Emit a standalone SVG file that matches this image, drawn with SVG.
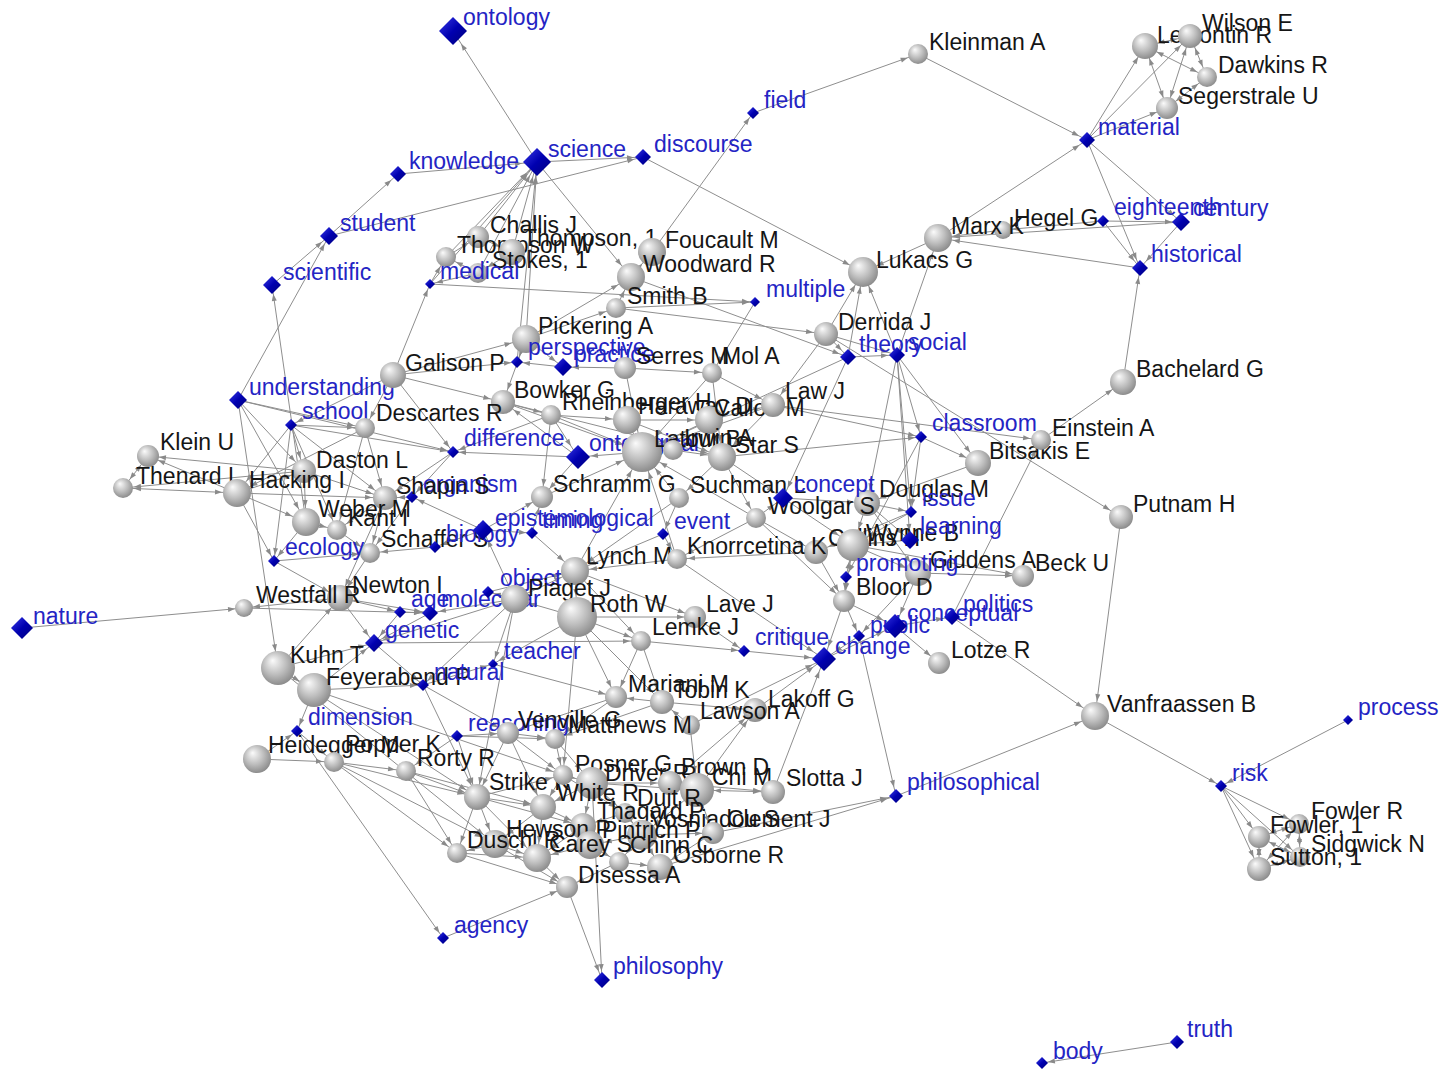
<svg xmlns="http://www.w3.org/2000/svg" width="1443" height="1071" viewBox="0 0 1443 1071">
<style>
.e line{stroke:#8e8e8e;stroke-width:1;fill:none}
text{font-family:"Liberation Sans",Arial,sans-serif;font-size:23px;fill:#151515}
text.c{fill:#2424c4}
circle{fill:url(#sph)}
.d{fill:url(#dia)}
</style>
<defs>
<radialGradient id="sph" cx="0.45" cy="0.42" r="0.62" fx="0.34" fy="0.28"><stop offset="0" stop-color="#fbfbfb"/><stop offset="0.55" stop-color="#bdbdbd"/><stop offset="1" stop-color="#868686"/></radialGradient>
<linearGradient id="dia" x1="0" y1="0" x2="1" y2="1"><stop offset="0" stop-color="#3a3ae8"/><stop offset="0.5" stop-color="#0000b0"/><stop offset="1" stop-color="#00007a"/></linearGradient>
<marker id="a6" markerUnits="userSpaceOnUse" markerWidth="8" markerHeight="6" refX="6" refY="0" orient="auto-start-reverse" style="overflow:visible"><path d="M0 0L-7-2.5-7 2.5z" fill="#8a8a8a"/></marker>
<marker id="a9" markerUnits="userSpaceOnUse" markerWidth="8" markerHeight="6" refX="9" refY="0" orient="auto-start-reverse" style="overflow:visible"><path d="M0 0L-7-2.5-7 2.5z" fill="#8a8a8a"/></marker>
<marker id="a11" markerUnits="userSpaceOnUse" markerWidth="8" markerHeight="6" refX="11" refY="0" orient="auto-start-reverse" style="overflow:visible"><path d="M0 0L-7-2.5-7 2.5z" fill="#8a8a8a"/></marker>
<marker id="a13" markerUnits="userSpaceOnUse" markerWidth="8" markerHeight="6" refX="13" refY="0" orient="auto-start-reverse" style="overflow:visible"><path d="M0 0L-7-2.5-7 2.5z" fill="#8a8a8a"/></marker>
<marker id="a15" markerUnits="userSpaceOnUse" markerWidth="8" markerHeight="6" refX="15" refY="0" orient="auto-start-reverse" style="overflow:visible"><path d="M0 0L-7-2.5-7 2.5z" fill="#8a8a8a"/></marker>
<marker id="a17" markerUnits="userSpaceOnUse" markerWidth="8" markerHeight="6" refX="17" refY="0" orient="auto-start-reverse" style="overflow:visible"><path d="M0 0L-7-2.5-7 2.5z" fill="#8a8a8a"/></marker>
<marker id="a21" markerUnits="userSpaceOnUse" markerWidth="8" markerHeight="6" refX="21" refY="0" orient="auto-start-reverse" style="overflow:visible"><path d="M0 0L-7-2.5-7 2.5z" fill="#8a8a8a"/></marker>
</defs>
<rect width="1443" height="1071" fill="#ffffff"/>
<g id="connectors" class="e">
<g marker-end="url(#a15)">
<line x1="537" y1="162" x2="453" y2="31"/>
<line x1="398" y1="174" x2="537" y2="162"/>
<line x1="478" y1="237" x2="537" y2="162"/>
<line x1="446" y1="257" x2="537" y2="162"/>
<line x1="512" y1="252" x2="537" y2="162"/>
<line x1="478" y1="273" x2="537" y2="162"/>
<line x1="430" y1="284" x2="537" y2="162"/>
<line x1="526" y1="339" x2="537" y2="162"/>
<line x1="517" y1="362" x2="537" y2="162"/>
<line x1="643" y1="157" x2="863" y2="272"/>
<line x1="938" y1="238" x2="863" y2="272"/>
<line x1="848" y1="357" x2="863" y2="272"/>
<line x1="897" y1="355" x2="863" y2="272"/>
<line x1="826" y1="334" x2="863" y2="272"/>
<line x1="537" y1="162" x2="631" y2="277"/>
<line x1="616" y1="308" x2="631" y2="277"/>
<line x1="526" y1="339" x2="631" y2="277"/>
<line x1="631" y1="277" x2="652" y2="252"/>
<line x1="897" y1="355" x2="938" y2="238"/>
<line x1="1003" y1="230" x2="938" y2="238"/>
<line x1="1140" y1="268" x2="938" y2="238"/>
<line x1="1181" y1="222" x2="938" y2="238"/>
<line x1="238" y1="400" x2="306" y2="522"/>
<line x1="237" y1="493" x2="306" y2="522"/>
<line x1="304" y1="471" x2="306" y2="522"/>
<line x1="291" y1="425" x2="237" y2="493"/>
<line x1="365" y1="428" x2="237" y2="493"/>
<line x1="393" y1="375" x2="526" y2="339"/>
<line x1="551" y1="415" x2="627" y2="420"/>
<line x1="627" y1="420" x2="709" y2="420"/>
<line x1="503" y1="402" x2="722" y2="457"/>
<line x1="627" y1="420" x2="722" y2="457"/>
<line x1="709" y1="420" x2="722" y2="457"/>
<line x1="773" y1="405" x2="722" y2="457"/>
<line x1="712" y1="373" x2="722" y2="457"/>
<line x1="673" y1="450" x2="722" y2="457"/>
<line x1="488" y1="592" x2="575" y2="571"/>
<line x1="515" y1="599" x2="575" y2="571"/>
<line x1="677" y1="559" x2="575" y2="571"/>
<line x1="663" y1="534" x2="575" y2="571"/>
<line x1="532" y1="533" x2="575" y2="571"/>
<line x1="679" y1="498" x2="575" y2="571"/>
<line x1="577" y1="617" x2="515" y2="599"/>
<line x1="334" y1="762" x2="495" y2="844"/>
<line x1="278" y1="668" x2="495" y2="844"/>
<line x1="477" y1="797" x2="495" y2="844"/>
<line x1="543" y1="807" x2="495" y2="844"/>
<line x1="583" y1="826" x2="590" y2="845"/>
<line x1="642" y1="835" x2="590" y2="845"/>
<line x1="477" y1="797" x2="537" y2="858"/>
<line x1="583" y1="826" x2="537" y2="858"/>
<line x1="495" y1="844" x2="537" y2="858"/>
<line x1="590" y1="845" x2="537" y2="858"/>
<line x1="457" y1="853" x2="537" y2="858"/>
<line x1="543" y1="807" x2="537" y2="858"/>
<line x1="697" y1="790" x2="642" y2="835"/>
<line x1="625" y1="813" x2="642" y2="835"/>
<line x1="1121" y1="517" x2="1095" y2="716"/>
<line x1="952" y1="617" x2="1095" y2="716"/>
<line x1="896" y1="796" x2="1095" y2="716"/>
</g>
<g marker-end="url(#a21)">
<line x1="575" y1="571" x2="577" y2="617"/>
<line x1="551" y1="415" x2="642" y2="452"/>
<line x1="503" y1="402" x2="642" y2="452"/>
<line x1="627" y1="420" x2="642" y2="452"/>
<line x1="709" y1="420" x2="642" y2="452"/>
<line x1="773" y1="405" x2="642" y2="452"/>
<line x1="625" y1="368" x2="642" y2="452"/>
<line x1="712" y1="373" x2="642" y2="452"/>
<line x1="542" y1="497" x2="642" y2="452"/>
<line x1="679" y1="498" x2="642" y2="452"/>
<line x1="756" y1="518" x2="642" y2="452"/>
<line x1="677" y1="559" x2="642" y2="452"/>
<line x1="575" y1="571" x2="642" y2="452"/>
<line x1="848" y1="357" x2="642" y2="452"/>
</g>
<g marker-end="url(#a17)">
<line x1="238" y1="400" x2="278" y2="668"/>
<line x1="278" y1="668" x2="314" y2="690"/>
<line x1="555" y1="739" x2="592" y2="783"/>
<line x1="563" y1="775" x2="592" y2="783"/>
<line x1="592" y1="783" x2="697" y2="790"/>
<line x1="670" y1="783" x2="697" y2="790"/>
<line x1="690" y1="725" x2="697" y2="790"/>
<line x1="783" y1="498" x2="853" y2="545"/>
<line x1="867" y1="503" x2="853" y2="545"/>
<line x1="911" y1="512" x2="853" y2="545"/>
<line x1="910" y1="540" x2="853" y2="545"/>
<line x1="846" y1="577" x2="853" y2="545"/>
</g>
<g marker-end="url(#a13)">
<line x1="478" y1="237" x2="512" y2="252"/>
<line x1="616" y1="308" x2="826" y2="334"/>
<line x1="1087" y1="140" x2="1145" y2="46"/>
<line x1="1087" y1="140" x2="1190" y2="36"/>
<line x1="1145" y1="46" x2="1190" y2="36" marker-start="url(#a13)"/>
<line x1="1041" y1="440" x2="1123" y2="382"/>
<line x1="826" y1="334" x2="1121" y2="517"/>
<line x1="921" y1="437" x2="978" y2="463"/>
<line x1="897" y1="355" x2="978" y2="463"/>
<line x1="978" y1="463" x2="867" y2="503"/>
<line x1="238" y1="400" x2="304" y2="471"/>
<line x1="291" y1="425" x2="304" y2="471"/>
<line x1="237" y1="493" x2="304" y2="471"/>
<line x1="291" y1="425" x2="385" y2="498"/>
<line x1="365" y1="428" x2="385" y2="498"/>
<line x1="237" y1="493" x2="385" y2="498"/>
<line x1="304" y1="471" x2="385" y2="498"/>
<line x1="453" y1="452" x2="385" y2="498"/>
<line x1="412" y1="497" x2="385" y2="498"/>
<line x1="385" y1="498" x2="340" y2="598"/>
<line x1="370" y1="553" x2="340" y2="598"/>
<line x1="274" y1="561" x2="340" y2="598"/>
<line x1="278" y1="668" x2="340" y2="598"/>
<line x1="393" y1="375" x2="503" y2="402"/>
<line x1="578" y1="457" x2="503" y2="402"/>
<line x1="526" y1="339" x2="503" y2="402"/>
<line x1="551" y1="415" x2="578" y2="457"/>
<line x1="642" y1="452" x2="578" y2="457"/>
<line x1="709" y1="420" x2="773" y2="405"/>
<line x1="712" y1="373" x2="773" y2="405"/>
<line x1="826" y1="334" x2="773" y2="405"/>
<line x1="783" y1="498" x2="867" y2="503"/>
<line x1="897" y1="355" x2="867" y2="503"/>
<line x1="756" y1="518" x2="816" y2="552"/>
<line x1="911" y1="512" x2="816" y2="552"/>
<line x1="853" y1="545" x2="918" y2="573"/>
<line x1="867" y1="503" x2="918" y2="573"/>
<line x1="577" y1="617" x2="662" y2="702"/>
<line x1="641" y1="641" x2="662" y2="702"/>
<line x1="690" y1="725" x2="662" y2="702"/>
<line x1="662" y1="702" x2="755" y2="710"/>
<line x1="670" y1="783" x2="755" y2="710"/>
<line x1="697" y1="790" x2="755" y2="710"/>
<line x1="755" y1="710" x2="824" y2="659"/>
<line x1="690" y1="725" x2="824" y2="659"/>
<line x1="744" y1="651" x2="824" y2="659"/>
<line x1="677" y1="559" x2="824" y2="659"/>
<line x1="844" y1="601" x2="824" y2="659"/>
<line x1="859" y1="636" x2="824" y2="659"/>
<line x1="773" y1="792" x2="824" y2="659"/>
<line x1="844" y1="601" x2="895" y2="626"/>
<line x1="918" y1="573" x2="895" y2="626"/>
<line x1="824" y1="659" x2="895" y2="626"/>
<line x1="334" y1="762" x2="477" y2="797"/>
<line x1="406" y1="771" x2="477" y2="797"/>
<line x1="457" y1="736" x2="477" y2="797"/>
<line x1="278" y1="668" x2="477" y2="797"/>
<line x1="423" y1="685" x2="477" y2="797"/>
<line x1="508" y1="733" x2="477" y2="797"/>
<line x1="515" y1="599" x2="477" y2="797"/>
<line x1="406" y1="771" x2="543" y2="807"/>
<line x1="508" y1="733" x2="543" y2="807"/>
<line x1="477" y1="797" x2="543" y2="807"/>
<line x1="563" y1="775" x2="543" y2="807"/>
<line x1="592" y1="783" x2="543" y2="807"/>
<line x1="592" y1="783" x2="670" y2="783"/>
<line x1="697" y1="790" x2="773" y2="792" marker-start="url(#a17)"/>
<line x1="670" y1="783" x2="773" y2="792"/>
<line x1="592" y1="783" x2="583" y2="826"/>
<line x1="543" y1="807" x2="583" y2="826"/>
<line x1="625" y1="813" x2="583" y2="826"/>
<line x1="477" y1="797" x2="583" y2="826"/>
<line x1="642" y1="835" x2="660" y2="867"/>
<line x1="713" y1="833" x2="660" y2="867"/>
<line x1="619" y1="862" x2="660" y2="867"/>
<line x1="1221" y1="786" x2="1259" y2="869"/>
<line x1="1259" y1="837" x2="1259" y2="869" marker-start="url(#a11)"/>
<line x1="1300" y1="857" x2="1259" y2="869" marker-start="url(#a11)"/>
<line x1="1299" y1="824" x2="1259" y2="869" marker-start="url(#a11)"/>
</g>
<g marker-end="url(#a11)">
<line x1="753" y1="113" x2="918" y2="54"/>
<line x1="1087" y1="140" x2="1167" y2="108"/>
<line x1="1145" y1="46" x2="1207" y2="77" marker-start="url(#a13)"/>
<line x1="1145" y1="46" x2="1167" y2="108" marker-start="url(#a13)"/>
<line x1="1190" y1="36" x2="1207" y2="77" marker-start="url(#a13)"/>
<line x1="1190" y1="36" x2="1167" y2="108" marker-start="url(#a13)"/>
<line x1="1207" y1="77" x2="1167" y2="108" marker-start="url(#a11)"/>
<line x1="446" y1="257" x2="478" y2="237"/>
<line x1="478" y1="273" x2="446" y2="257"/>
<line x1="512" y1="252" x2="478" y2="273"/>
<line x1="430" y1="284" x2="446" y2="257"/>
<line x1="755" y1="302" x2="712" y2="373"/>
<line x1="625" y1="368" x2="712" y2="373"/>
<line x1="526" y1="339" x2="616" y2="308"/>
<line x1="773" y1="405" x2="1041" y2="440"/>
<line x1="952" y1="617" x2="1041" y2="440"/>
<line x1="918" y1="573" x2="1023" y2="576"/>
<line x1="853" y1="545" x2="1023" y2="576"/>
<line x1="895" y1="626" x2="939" y2="663"/>
<line x1="1221" y1="786" x2="1299" y2="824"/>
<line x1="1221" y1="786" x2="1259" y2="837"/>
<line x1="1221" y1="786" x2="1300" y2="857"/>
<line x1="1259" y1="837" x2="1299" y2="824" marker-start="url(#a11)"/>
<line x1="1259" y1="837" x2="1300" y2="857" marker-start="url(#a11)"/>
<line x1="1299" y1="824" x2="1300" y2="857" marker-start="url(#a11)"/>
<line x1="148" y1="456" x2="123" y2="488" marker-start="url(#a11)"/>
<line x1="237" y1="493" x2="148" y2="456"/>
<line x1="304" y1="471" x2="148" y2="456"/>
<line x1="237" y1="493" x2="123" y2="488" marker-start="url(#a15)"/>
<line x1="304" y1="471" x2="123" y2="488"/>
<line x1="238" y1="400" x2="365" y2="428"/>
<line x1="291" y1="425" x2="365" y2="428"/>
<line x1="393" y1="375" x2="365" y2="428"/>
<line x1="291" y1="425" x2="337" y2="530"/>
<line x1="365" y1="428" x2="337" y2="530"/>
<line x1="306" y1="522" x2="337" y2="530"/>
<line x1="385" y1="498" x2="337" y2="530"/>
<line x1="385" y1="498" x2="370" y2="553"/>
<line x1="337" y1="530" x2="370" y2="553"/>
<line x1="274" y1="561" x2="370" y2="553"/>
<line x1="412" y1="497" x2="370" y2="553"/>
<line x1="435" y1="547" x2="370" y2="553"/>
<line x1="257" y1="759" x2="334" y2="762"/>
<line x1="297" y1="731" x2="334" y2="762"/>
<line x1="334" y1="762" x2="406" y2="771"/>
<line x1="457" y1="736" x2="406" y2="771"/>
<line x1="334" y1="762" x2="457" y2="853"/>
<line x1="406" y1="771" x2="457" y2="853"/>
<line x1="477" y1="797" x2="457" y2="853"/>
<line x1="495" y1="844" x2="457" y2="853"/>
<line x1="457" y1="736" x2="508" y2="733"/>
<line x1="423" y1="685" x2="508" y2="733"/>
<line x1="616" y1="697" x2="508" y2="733"/>
<line x1="314" y1="690" x2="563" y2="775"/>
<line x1="508" y1="733" x2="563" y2="775"/>
<line x1="555" y1="739" x2="563" y2="775"/>
<line x1="477" y1="797" x2="563" y2="775"/>
<line x1="577" y1="617" x2="563" y2="775"/>
<line x1="374" y1="643" x2="641" y2="641"/>
<line x1="575" y1="571" x2="641" y2="641"/>
<line x1="577" y1="617" x2="641" y2="641"/>
<line x1="575" y1="571" x2="695" y2="617"/>
<line x1="577" y1="617" x2="695" y2="617"/>
<line x1="493" y1="664" x2="616" y2="697"/>
<line x1="577" y1="617" x2="616" y2="697"/>
<line x1="641" y1="641" x2="616" y2="697"/>
<line x1="662" y1="702" x2="616" y2="697"/>
<line x1="662" y1="702" x2="555" y2="739"/>
<line x1="616" y1="697" x2="555" y2="739"/>
<line x1="457" y1="736" x2="555" y2="739"/>
<line x1="508" y1="733" x2="555" y2="739"/>
<line x1="515" y1="599" x2="483" y2="530"/>
<line x1="663" y1="534" x2="677" y2="559"/>
<line x1="756" y1="518" x2="677" y2="559"/>
<line x1="816" y1="552" x2="677" y2="559"/>
<line x1="532" y1="533" x2="542" y2="497"/>
<line x1="483" y1="530" x2="542" y2="497"/>
<line x1="578" y1="457" x2="542" y2="497"/>
<line x1="551" y1="415" x2="542" y2="497"/>
<line x1="503" y1="402" x2="551" y2="415"/>
<line x1="642" y1="452" x2="673" y2="450"/>
<line x1="722" y1="457" x2="679" y2="498"/>
<line x1="722" y1="457" x2="756" y2="518"/>
<line x1="722" y1="457" x2="783" y2="498"/>
<line x1="756" y1="518" x2="783" y2="498"/>
<line x1="848" y1="357" x2="783" y2="498"/>
<line x1="756" y1="518" x2="844" y2="601"/>
<line x1="853" y1="545" x2="844" y2="601"/>
<line x1="816" y1="552" x2="844" y2="601"/>
<line x1="846" y1="577" x2="844" y2="601"/>
<line x1="563" y1="775" x2="625" y2="813"/>
<line x1="592" y1="783" x2="625" y2="813"/>
<line x1="697" y1="790" x2="713" y2="833"/>
<line x1="642" y1="835" x2="713" y2="833"/>
<line x1="642" y1="835" x2="619" y2="862"/>
<line x1="590" y1="845" x2="619" y2="862"/>
<line x1="495" y1="844" x2="567" y2="887"/>
<line x1="537" y1="858" x2="567" y2="887"/>
<line x1="619" y1="862" x2="567" y2="887"/>
<line x1="457" y1="853" x2="567" y2="887"/>
<line x1="443" y1="938" x2="567" y2="887"/>
</g>
<g marker-end="url(#a9)">
<line x1="1103" y1="221" x2="1003" y2="230"/>
<line x1="329" y1="236" x2="398" y2="174"/>
<line x1="272" y1="285" x2="329" y2="236"/>
<line x1="238" y1="400" x2="329" y2="236"/>
<line x1="329" y1="236" x2="643" y2="157"/>
<line x1="537" y1="162" x2="643" y2="157"/>
<line x1="918" y1="54" x2="1087" y2="140"/>
<line x1="938" y1="238" x2="1087" y2="140"/>
<line x1="631" y1="277" x2="848" y2="357"/>
<line x1="826" y1="334" x2="848" y2="357"/>
<line x1="1103" y1="221" x2="1181" y2="222"/>
<line x1="1087" y1="140" x2="1181" y2="222"/>
<line x1="1103" y1="221" x2="1140" y2="268"/>
<line x1="1181" y1="222" x2="1140" y2="268"/>
<line x1="1087" y1="140" x2="1140" y2="268"/>
<line x1="1123" y1="382" x2="1140" y2="268"/>
<line x1="22" y1="628" x2="244" y2="608"/>
<line x1="340" y1="598" x2="244" y2="608"/>
<line x1="306" y1="522" x2="272" y2="285"/>
<line x1="340" y1="598" x2="430" y2="613"/>
<line x1="400" y1="612" x2="430" y2="613"/>
<line x1="244" y1="608" x2="430" y2="613"/>
<line x1="515" y1="599" x2="430" y2="613"/>
<line x1="340" y1="598" x2="374" y2="643"/>
<line x1="400" y1="612" x2="374" y2="643"/>
<line x1="430" y1="613" x2="374" y2="643"/>
<line x1="278" y1="668" x2="374" y2="643"/>
<line x1="314" y1="690" x2="374" y2="643"/>
<line x1="515" y1="599" x2="374" y2="643"/>
<line x1="625" y1="368" x2="563" y2="367"/>
<line x1="526" y1="339" x2="563" y2="367"/>
<line x1="867" y1="503" x2="910" y2="540"/>
<line x1="897" y1="355" x2="910" y2="540"/>
<line x1="826" y1="334" x2="897" y2="355"/>
<line x1="848" y1="357" x2="897" y2="355"/>
<line x1="895" y1="626" x2="952" y2="617"/>
<line x1="859" y1="636" x2="896" y2="796"/>
<line x1="713" y1="833" x2="896" y2="796"/>
<line x1="660" y1="867" x2="896" y2="796"/>
<line x1="567" y1="887" x2="602" y2="980"/>
<line x1="592" y1="783" x2="602" y2="980"/>
</g>
<g marker-end="url(#a6)">
<line x1="652" y1="252" x2="753" y2="113"/>
<line x1="478" y1="273" x2="430" y2="284"/>
<line x1="393" y1="375" x2="430" y2="284"/>
<line x1="430" y1="284" x2="755" y2="302"/>
<line x1="616" y1="308" x2="755" y2="302"/>
<line x1="1095" y1="716" x2="1221" y2="786"/>
<line x1="1348" y1="720" x2="1221" y2="786"/>
<line x1="1177" y1="1042" x2="1042" y2="1063"/>
<line x1="238" y1="400" x2="453" y2="452"/>
<line x1="291" y1="425" x2="453" y2="452"/>
<line x1="393" y1="375" x2="453" y2="452"/>
<line x1="578" y1="457" x2="453" y2="452"/>
<line x1="551" y1="415" x2="453" y2="452"/>
<line x1="291" y1="425" x2="274" y2="561"/>
<line x1="237" y1="493" x2="274" y2="561"/>
<line x1="306" y1="522" x2="274" y2="561"/>
<line x1="393" y1="375" x2="291" y2="425"/>
<line x1="393" y1="375" x2="517" y2="362"/>
<line x1="563" y1="367" x2="517" y2="362"/>
<line x1="526" y1="339" x2="517" y2="362"/>
<line x1="453" y1="452" x2="412" y2="497"/>
<line x1="483" y1="530" x2="412" y2="497"/>
<line x1="483" y1="530" x2="435" y2="547"/>
<line x1="483" y1="530" x2="532" y2="533"/>
<line x1="340" y1="598" x2="400" y2="612"/>
<line x1="314" y1="690" x2="423" y2="685"/>
<line x1="374" y1="643" x2="423" y2="685"/>
<line x1="515" y1="599" x2="423" y2="685"/>
<line x1="314" y1="690" x2="297" y2="731"/>
<line x1="257" y1="759" x2="297" y2="731"/>
<line x1="297" y1="731" x2="443" y2="938"/>
<line x1="423" y1="685" x2="493" y2="664"/>
<line x1="577" y1="617" x2="493" y2="664"/>
<line x1="515" y1="599" x2="493" y2="664"/>
<line x1="515" y1="599" x2="488" y2="592"/>
<line x1="641" y1="641" x2="744" y2="651"/>
<line x1="695" y1="617" x2="744" y2="651"/>
<line x1="679" y1="498" x2="663" y2="534"/>
<line x1="867" y1="503" x2="911" y2="512"/>
<line x1="921" y1="437" x2="911" y2="512"/>
<line x1="897" y1="355" x2="911" y2="512"/>
<line x1="844" y1="601" x2="859" y2="636"/>
<line x1="918" y1="573" x2="859" y2="636"/>
<line x1="897" y1="355" x2="921" y2="437"/>
<line x1="773" y1="405" x2="921" y2="437"/>
<line x1="722" y1="457" x2="921" y2="437"/>
<line x1="921" y1="437" x2="846" y2="577"/>
</g>
</g>
<g id="nodes">
<g id="n-ontology"><path class="d" d="M453 17l14 14-14 14-14-14z"/><text class="c" x="463" y="25">ontology</text></g>
<g id="n-science"><path class="d" d="M537 148l14 14-14 14-14-14z"/><text class="c" x="548" y="157">science</text></g>
<g id="n-knowledge"><path class="d" d="M398 166l8 8-8 8-8-8z"/><text class="c" x="409" y="169">knowledge</text></g>
<g id="n-discourse"><path class="d" d="M643 149l8 8-8 8-8-8z"/><text class="c" x="654" y="152">discourse</text></g>
<g id="n-field"><path class="d" d="M753 107l6 6-6 6-6-6z"/><text class="c" x="764" y="108">field</text></g>
<g id="n-student"><path class="d" d="M329 227l9 9-9 9-9-9z"/><text class="c" x="340" y="231">student</text></g>
<g id="n-scientific"><path class="d" d="M272 276l9 9-9 9-9-9z"/><text class="c" x="283" y="280">scientific</text></g>
<g id="n-multiple"><path class="d" d="M755 297l5 5-5 5-5-5z"/><text class="c" x="766" y="297">multiple</text></g>
<g id="n-theory"><path class="d" d="M848 349l8 8-8 8-8-8z"/><text class="c" x="859" y="352">theory</text></g>
<g id="n-social"><path class="d" d="M897 347l8 8-8 8-8-8z"/><text class="c" x="908" y="350">social</text></g>
<g id="n-understanding"><path class="d" d="M238 391l9 9-9 9-9-9z"/><text class="c" x="249" y="395">understanding</text></g>
<g id="n-school"><path class="d" d="M291 419l6 6-6 6-6-6z"/><text class="c" x="302" y="419">school</text></g>
<g id="n-classroom"><path class="d" d="M921 431l6 6-6 6-6-6z"/><text class="c" x="932" y="431">classroom</text></g>
<g id="n-material"><path class="d" d="M1087 132l8 8-8 8-8-8z"/><text class="c" x="1098" y="135">material</text></g>
<g id="n-eighteenth"><path class="d" d="M1103 215l6 6-6 6-6-6z"/><text class="c" x="1114" y="215">eighteenth</text></g>
<g id="n-century"><path class="d" d="M1181 213l9 9-9 9-9-9z"/><text class="c" x="1193" y="216">century</text></g>
<g id="n-historical"><path class="d" d="M1140 260l8 8-8 8-8-8z"/><text class="c" x="1151" y="262">historical</text></g>
<g id="n-nature"><path class="d" d="M22 617l11 11-11 11-11-11z"/><text class="c" x="33" y="624">nature</text></g>
<g id="n-process"><path class="d" d="M1348 715l5 5-5 5-5-5z"/><text class="c" x="1358" y="715">process</text></g>
<g id="n-risk"><path class="d" d="M1221 780l6 6-6 6-6-6z"/><text class="c" x="1232" y="781">risk</text></g>
<g id="n-truth"><path class="d" d="M1177 1035l7 7-7 7-7-7z"/><text class="c" x="1187" y="1037">truth</text></g>
<g id="n-body"><path class="d" d="M1042 1057l6 6-6 6-6-6z"/><text class="c" x="1053" y="1059">body</text></g>
<g id="n-philosophical"><path class="d" d="M896 789l7 7-7 7-7-7z"/><text class="c" x="907" y="790">philosophical</text></g>
<g id="n-agency"><path class="d" d="M443 932l6 6-6 6-6-6z"/><text class="c" x="454" y="933">agency</text></g>
<g id="n-philosophy"><path class="d" d="M602 972l8 8-8 8-8-8z"/><text class="c" x="613" y="974">philosophy</text></g>
<g id="n-dimension"><path class="d" d="M297 725l6 6-6 6-6-6z"/><text class="c" x="308" y="725">dimension</text></g>

<g id="n-kleinman"><circle cx="918" cy="54" r="10"/><text x="929" y="50">Kleinman A</text></g>
<g id="n-lewontin"><circle cx="1145" cy="46" r="13"/><text x="1157" y="43">Lewontin R</text></g>
<g id="n-wilson"><circle cx="1190" cy="36" r="12"/><text x="1202" y="31">Wilson E</text></g>
<g id="n-dawkins"><circle cx="1207" cy="77" r="10"/><text x="1218" y="73">Dawkins R</text></g>
<g id="n-segerstrale"><circle cx="1167" cy="108" r="11"/><text x="1178" y="104">Segerstrale U</text></g>
<g id="n-hegel"><circle cx="1003" cy="230" r="9"/><text x="1014" y="226">Hegel G</text></g>
<g id="n-marx"><circle cx="938" cy="238" r="14"/><text x="951" y="234">Marx K</text></g>
<g id="n-lukacs"><circle cx="863" cy="272" r="15"/><text x="876" y="268">Lukacs G</text></g>
<g id="n-challis"><circle cx="478" cy="237" r="11"/><text x="490" y="233">Challis J</text></g>
<g id="n-thompsonw"><circle cx="446" cy="257" r="10"/><text x="457" y="253">Thompson W</text></g>
<g id="n-thompson1"><circle cx="512" cy="252" r="13"/><text x="523" y="246">Thompson, 1</text></g>
<g id="n-stokes"><circle cx="478" cy="273" r="10"/><text x="492" y="268">Stokes, 1</text></g>
<g id="n-medical"><path class="d" d="M430 279l5 5-5 5-5-5z"/><text class="c" x="440" y="279">medical</text></g>
<g id="n-foucault"><circle cx="652" cy="252" r="14"/><text x="665" y="248">Foucault M</text></g>
<g id="n-woodward"><circle cx="631" cy="277" r="14"/><text x="643" y="272">Woodward R</text></g>
<g id="n-smith"><circle cx="616" cy="308" r="10"/><text x="627" y="304">Smith B</text></g>
<g id="n-pickering"><circle cx="526" cy="339" r="14"/><text x="538" y="334">Pickering A</text></g>
<g id="n-derrida"><circle cx="826" cy="334" r="12"/><text x="838" y="330">Derrida J</text></g>
<g id="n-galison"><circle cx="393" cy="375" r="13"/><text x="405" y="371">Galison P</text></g>
<g id="n-perspective"><path class="d" d="M517 356l6 6-6 6-6-6z"/><text class="c" x="528" y="355">perspective</text></g>
<g id="n-practice"><path class="d" d="M563 358l9 9-9 9-9-9z"/><text class="c" x="574" y="362">practice</text></g>
<g id="n-serres"><circle cx="625" cy="368" r="11"/><text x="636" y="364">Serres M</text></g>
<g id="n-mol"><circle cx="712" cy="373" r="10"/><text x="722" y="364">Mol A</text></g>
<g id="n-bowker"><circle cx="503" cy="402" r="12"/><text x="514" y="398">Bowker G</text></g>
<g id="n-rheinberger"><circle cx="551" cy="415" r="10"/><text x="562" y="410">Rheinberger H</text></g>
<g id="n-haraway"><circle cx="627" cy="420" r="14"/><text x="638" y="414">Haraway D</text></g>
<g id="n-callon"><circle cx="709" cy="420" r="14"/><text x="714" y="416">Callon M</text></g>
<g id="n-law"><circle cx="773" cy="405" r="12"/><text x="785" y="399">Law J</text></g>
<g id="n-difference"><path class="d" d="M453 446l6 6-6 6-6-6z"/><text class="c" x="464" y="446">difference</text></g>
<g id="n-ontological"><path class="d" d="M578 445l12 12-12 12-12-12z"/><text class="c" x="589" y="451">ontological</text></g>
<g id="n-latour"><circle cx="642" cy="452" r="20"/><text x="654" y="447">Latour B</text></g>
<g id="n-irwin"><circle cx="673" cy="450" r="10"/><text x="684" y="446">Irwin A</text></g>
<g id="n-star"><circle cx="722" cy="457" r="14"/><text x="735" y="453">Star S</text></g>
<g id="n-klein"><circle cx="148" cy="456" r="11"/><text x="160" y="450">Klein U</text></g>
<g id="n-thenard"><circle cx="123" cy="488" r="10"/><text x="136" y="484">Thenard L</text></g>
<g id="n-daston"><circle cx="304" cy="471" r="12"/><text x="316" y="468">Daston L</text></g>
<g id="n-hacking"><circle cx="237" cy="493" r="14"/><text x="249" y="488">Hacking I</text></g>
<g id="n-descartes"><circle cx="365" cy="428" r="10"/><text x="376" y="421">Descartes R</text></g>
<g id="n-organism"><path class="d" d="M412 491l6 6-6 6-6-6z"/><text class="c" x="423" y="492">organism</text></g>
<g id="n-shapin"><circle cx="385" cy="498" r="12"/><text x="396" y="494">Shapin S</text></g>
<g id="n-weber"><circle cx="306" cy="522" r="14"/><text x="318" y="517">Weber M</text></g>
<g id="n-kant"><circle cx="337" cy="530" r="10"/><text x="348" y="526">Kant I</text></g>
<g id="n-schaffer"><circle cx="370" cy="553" r="10"/><text x="381" y="547">Schaffer S</text></g>
<g id="n-biology"><path class="d" d="M435 541l6 6-6 6-6-6z"/><text class="c" x="446" y="542">biology</text></g>
<g id="n-epistemological"><path class="d" d="M483 520l10 10-10 10-10-10z"/><text class="c" x="495" y="526">epistemological</text></g>
<g id="n-timing"><path class="d" d="M532 527l6 6-6 6-6-6z"/><text class="c" x="542" y="528">timing</text></g>
<g id="n-ecology"><path class="d" d="M274 555l6 6-6 6-6-6z"/><text class="c" x="285" y="555">ecology</text></g>
<g id="n-schramm"><circle cx="542" cy="497" r="11"/><text x="553" y="492">Schramm G</text></g>
<g id="n-suchman"><circle cx="679" cy="498" r="10"/><text x="690" y="493">Suchman L</text></g>
<g id="n-event"><path class="d" d="M663 528l6 6-6 6-6-6z"/><text class="c" x="674" y="529">event</text></g>
<g id="n-douglas"><circle cx="867" cy="503" r="13"/><text x="879" y="497">Douglas M</text></g>
<g id="n-woolgar"><circle cx="756" cy="518" r="10"/><text x="768" y="514">Woolgar S</text></g>
<g id="n-concept"><path class="d" d="M783 488l10 10-10 10-10-10z"/><text class="c" x="794" y="492">concept</text></g>
<g id="n-issue"><path class="d" d="M911 506l6 6-6 6-6-6z"/><text class="c" x="922" y="506">issue</text></g>
<g id="n-collins"><circle cx="816" cy="552" r="12"/><text x="828" y="546">Collins H</text></g>
<g id="n-wynne"><circle cx="853" cy="545" r="16"/><text x="866" y="541">Wynne B</text></g>
<g id="n-learning"><path class="d" d="M910 531l9 9-9 9-9-9z"/><text class="c" x="920" y="534">learning</text></g>
<g id="n-bitsakis"><circle cx="978" cy="463" r="13"/><text x="989" y="459">Bitsakis E</text></g>
<g id="n-einstein"><circle cx="1041" cy="440" r="10"/><text x="1052" y="436">Einstein A</text></g>
<g id="n-bachelard"><circle cx="1123" cy="382" r="13"/><text x="1136" y="377">Bachelard G</text></g>
<g id="n-putnam"><circle cx="1121" cy="517" r="12"/><text x="1133" y="512">Putnam H</text></g>
<g id="n-giddens"><circle cx="918" cy="573" r="13"/><text x="930" y="568">Giddens A</text></g>
<g id="n-promoting"><path class="d" d="M846 571l6 6-6 6-6-6z"/><text class="c" x="856" y="571">promoting</text></g>
<g id="n-beck"><circle cx="1023" cy="576" r="11"/><text x="1035" y="571">Beck U</text></g>
<g id="n-bloor"><circle cx="844" cy="601" r="11"/><text x="856" y="595">Bloor D</text></g>
<g id="n-newton"><circle cx="340" cy="598" r="13"/><text x="352" y="593">Newton I</text></g>
<g id="n-westfall"><circle cx="244" cy="608" r="9"/><text x="256" y="603">Westfall R</text></g>
<g id="n-age"><path class="d" d="M400 606l6 6-6 6-6-6z"/><text class="c" x="411" y="607">age</text></g>
<g id="n-molecular"><path class="d" d="M430 605l8 8-8 8-8-8z"/><text class="c" x="441" y="607">molecular</text></g>
<g id="n-object"><path class="d" d="M488 586l6 6-6 6-6-6z"/><text class="c" x="500" y="586">object</text></g>
<g id="n-lynch"><circle cx="575" cy="571" r="14"/><text x="586" y="564">Lynch M</text></g>
<g id="n-knorr"><circle cx="677" cy="559" r="10"/><text x="687" y="554">Knorrcetina K</text></g>
<g id="n-piaget"><circle cx="515" cy="599" r="14"/><text x="528" y="596">Piaget J</text></g>
<g id="n-roth"><circle cx="577" cy="617" r="20"/><text x="590" y="612">Roth W</text></g>
<g id="n-lave"><circle cx="695" cy="617" r="11"/><text x="706" y="612">Lave J</text></g>
<g id="n-lemke"><circle cx="641" cy="641" r="10"/><text x="652" y="635">Lemke J</text></g>
<g id="n-genetic"><path class="d" d="M374 634l9 9-9 9-9-9z"/><text class="c" x="385" y="638">genetic</text></g>
<g id="n-teacher"><path class="d" d="M493 659l5 5-5 5-5-5z"/><text class="c" x="504" y="659">teacher</text></g>
<g id="n-kuhn"><circle cx="278" cy="668" r="17"/><text x="290" y="663">Kuhn T</text></g>
<g id="n-feyerabend"><circle cx="314" cy="690" r="17"/><text x="326" y="685">Feyerabend P</text></g>
<g id="n-natural"><path class="d" d="M423 679l6 6-6 6-6-6z"/><text class="c" x="434" y="680">natural</text></g>
<g id="n-critique"><path class="d" d="M744 645l6 6-6 6-6-6z"/><text class="c" x="755" y="645">critique</text></g>
<g id="n-change"><path class="d" d="M824 647l12 12-12 12-12-12z"/><text class="c" x="835" y="654">change</text></g>
<g id="n-public"><path class="d" d="M859 630l6 6-6 6-6-6z"/><text class="c" x="870" y="633">public</text></g>
<g id="n-conceptual"><path class="d" d="M895 614l12 12-12 12-12-12z"/><text class="c" x="907" y="621">conceptual</text></g>
<g id="n-politics"><path class="d" d="M952 609l8 8-8 8-8-8z"/><text class="c" x="963" y="612">politics</text></g>
<g id="n-lotze"><circle cx="939" cy="663" r="11"/><text x="951" y="658">Lotze R</text></g>
<g id="n-vanfraassen"><circle cx="1095" cy="716" r="14"/><text x="1107" y="712">Vanfraassen B</text></g>
<g id="n-mariani"><circle cx="616" cy="697" r="11"/><text x="628" y="692">Mariani M</text></g>
<g id="n-tobin"><circle cx="662" cy="702" r="12"/><text x="673" y="698">Tobin K</text></g>
<g id="n-lakoff"><circle cx="755" cy="710" r="12"/><text x="768" y="707">Lakoff G</text></g>
<g id="n-lawson"><circle cx="690" cy="725" r="10"/><text x="700" y="719">Lawson A</text></g>
<g id="n-reasoning"><path class="d" d="M457 730l6 6-6 6-6-6z"/><text class="c" x="468" y="731">reasoning</text></g>
<g id="n-venville"><circle cx="508" cy="733" r="11"/><text x="518" y="728">Venville G</text></g>
<g id="n-matthews"><circle cx="555" cy="739" r="10"/><text x="568" y="733">Matthews M</text></g>
<g id="n-heidegger"><circle cx="257" cy="759" r="14"/><text x="268" y="753">Heidegger M</text></g>
<g id="n-popper"><circle cx="334" cy="762" r="10"/><text x="345" y="752">Popper K</text></g>
<g id="n-rorty"><circle cx="406" cy="771" r="10"/><text x="417" y="766">Rorty R</text></g>
<g id="n-strike"><circle cx="477" cy="797" r="13"/><text x="489" y="790">Strike K</text></g>
<g id="n-posner"><circle cx="563" cy="775" r="10"/><text x="575" y="772">Posner G</text></g>
<g id="n-driver"><circle cx="592" cy="783" r="16"/><text x="605" y="781">Driver R</text></g>
<g id="n-brown"><circle cx="670" cy="783" r="12"/><text x="681" y="775">Brown D</text></g>
<g id="n-chi"><circle cx="697" cy="790" r="17"/><text x="712" y="785">Chi M</text></g>
<g id="n-slotta"><circle cx="773" cy="792" r="12"/><text x="786" y="786">Slotta J</text></g>
<g id="n-white"><circle cx="543" cy="807" r="13"/><text x="557" y="801">White R</text></g>
<g id="n-duit"><circle cx="625" cy="813" r="10"/><text x="637" y="806">Duit R</text></g>
<g id="n-thagard"><circle cx="583" cy="826" r="13"/><text x="597" y="819">Thagard P</text></g>
<g id="n-vosniadou"><circle cx="642" cy="835" r="15"/><text x="650" y="827">Vosniadou S</text></g>
<g id="n-clement"><circle cx="713" cy="833" r="11"/><text x="727" y="827">Clement J</text></g>
<g id="n-hewson"><circle cx="495" cy="844" r="14"/><text x="506" y="837">Hewson P</text></g>
<g id="n-pintrich"><circle cx="590" cy="845" r="14"/><text x="602" y="838">Pintrich P</text></g>
<g id="n-duschl"><circle cx="457" cy="853" r="10"/><text x="467" y="848">Duschl R</text></g>
<g id="n-carey"><circle cx="537" cy="858" r="14"/><text x="549" y="852">Carey S</text></g>
<g id="n-chinn"><circle cx="619" cy="862" r="10"/><text x="630" y="853">Chinn C</text></g>
<g id="n-osborne"><circle cx="660" cy="867" r="13"/><text x="673" y="863">Osborne R</text></g>
<g id="n-disessa"><circle cx="567" cy="887" r="11"/><text x="578" y="883">Disessa A</text></g>
<g id="n-fowlerr"><circle cx="1299" cy="824" r="10"/><text x="1311" y="819">Fowler R</text></g>
<g id="n-fowler1"><circle cx="1259" cy="837" r="11"/><text x="1270" y="833">Fowler, 1</text></g>
<g id="n-sidgwick"><circle cx="1300" cy="857" r="10"/><text x="1311" y="852">Sidgwick N</text></g>
<g id="n-sutton"><circle cx="1259" cy="869" r="12"/><text x="1270" y="865">Sutton, 1</text></g>
</g>
</svg>
